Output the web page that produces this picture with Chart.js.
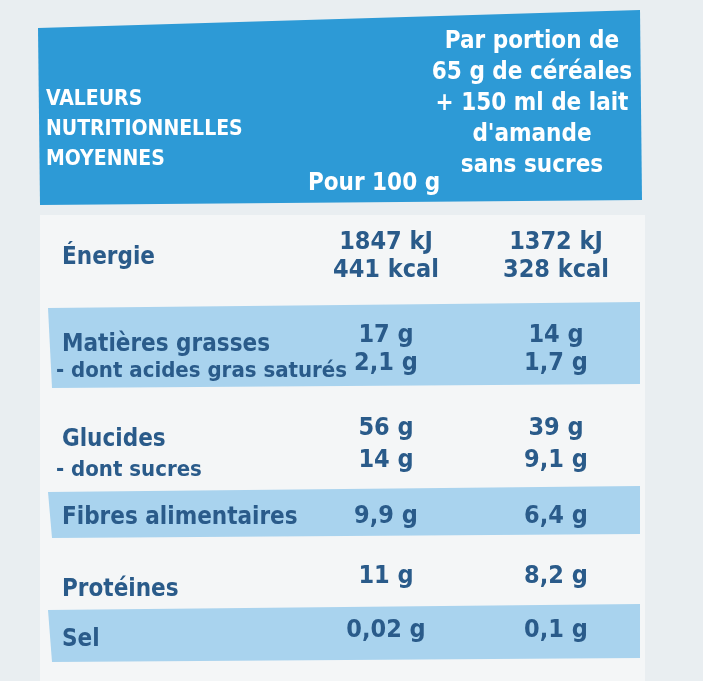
<!DOCTYPE html>
<html><head><meta charset="utf-8">
<script src="https://cdn.jsdelivr.net/npm/chart.js@4/dist/chart.umd.min.js"></script>
<style>html,body{margin:0;padding:0;background:#e9eef1}#w{width:703px;height:681px}</style>
</head><body><div id="w"><canvas id="c"></canvas></div>
<script>
const headerLeft = ["VALEURS","NUTRITIONNELLES","MOYENNES"];
const headerCol1 = "Pour 100 g";
const headerCol2 = ["Par portion de","65 g de céréales","+ 150 ml de lait","d'amande","sans sucres"];
const rowLabels = [["Énergie"],["Matières grasses","- dont acides gras saturés"],["Glucides","- dont sucres"],["Fibres alimentaires"],["Protéines"],["Sel"]];
const per100 = [["1847 kJ","441 kcal"],["17 g","2,1 g"],["56 g","14 g"],["9,9 g"],["11 g"],["0,02 g"]];
const perPortion = [["1372 kJ","328 kcal"],["14 g","1,7 g"],["39 g","9,1 g"],["6,4 g"],["8,2 g"],["0,1 g"]];
const banded = [false,true,false,true,false,true];

const F = '"Liberation Sans Narrow","DejaVu Sans Condensed",sans-serif';
const TXT = '#2a5b8a';
const layout = [
  {y0:225,y1:295,lines:[242,270]},
  {y0:308,y1:388,lines:[335,363]},
  {y0:408,y1:490,lines:[428,460]},
  {y0:492,y1:538,lines:[516]},
  {y0:553,y1:605,lines:[576]},
  {y0:610,y1:662,lines:[630]}
];
const labelY = [[258],[345,371],[440,470],[518],[590],[640]];
const tablePlugin = {
  id:'table',
  beforeDraw(chart){
    const c = chart.ctx;
    c.save();
    c.fillStyle='#e9eef1';c.fillRect(0,0,703,681);
    c.fillStyle='#f4f6f7';c.fillRect(40,215,605,466);
    c.fillStyle='#2d9ad6';c.beginPath();c.moveTo(38,28);c.lineTo(640,10);c.lineTo(642,200);c.lineTo(40,205);c.closePath();c.fill();
    c.fillStyle='#fff';c.font='bold 21px '+F;c.textBaseline='middle';
    headerLeft.forEach((t,i)=>c.fillText(t,46,100+i*30));
    c.font='bold 24px '+F;c.textAlign='center';
    c.fillText(headerCol1,374,184);
    headerCol2.forEach((t,i)=>c.fillText(t,532,42+i*31));
    rowLabels.forEach((lab,i)=>{
      const L=layout[i];
      if(banded[i]){c.fillStyle='#a9d3ee';c.beginPath();c.moveTo(48,L.y0);c.lineTo(640,L.y0-6);c.lineTo(640,L.y1-4);c.lineTo(52,L.y1);c.closePath();c.fill();}
      c.fillStyle=TXT;
      lab.forEach((t,j)=>{c.textAlign='left';c.font='bold '+(j?'22px ':'24px ')+F;c.fillText(t,j?56:62,labelY[i][j]);});
      L.lines.forEach((y,j)=>{
        c.font='bold 25px '+F;c.textAlign='center';
        if(per100[i][j])c.fillText(per100[i][j],386,y);
        if(perPortion[i][j])c.fillText(perPortion[i][j],556,y);
      });
    });
    c.restore();
  }
};
new Chart(document.getElementById('c'),{
  type:'bar',
  data:{labels:rowLabels.map(r=>r[0]),datasets:[{data:[],backgroundColor:'transparent'}]},
  options:{responsive:true,maintainAspectRatio:false,animation:false,
    plugins:{legend:{display:false},tooltip:{enabled:false}},
    scales:{x:{display:false},y:{display:false}}},
  plugins:[tablePlugin]
});
</script></body></html>
